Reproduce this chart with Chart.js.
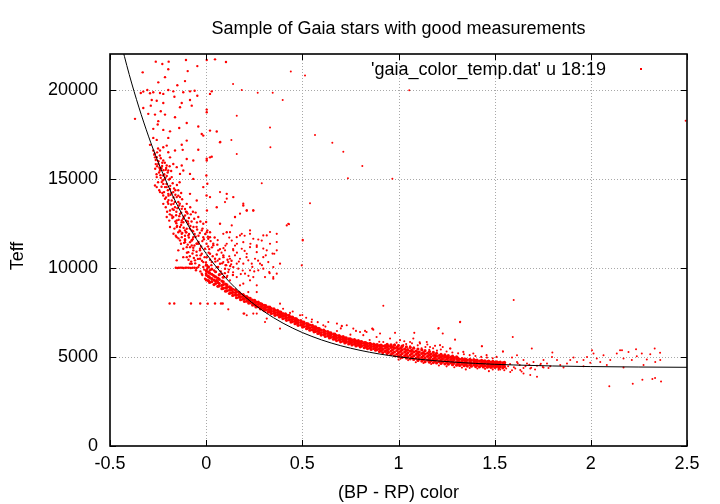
<!DOCTYPE html>
<html><head><meta charset="utf-8">
<script src="https://cdn.jsdelivr.net/npm/chart.js@4"></script>
<style>html,body{margin:0;padding:0;background:#fff}canvas{display:block}</style>
</head><body>
<canvas id="c" width="720" height="504"></canvas>
<script>
const chartTitle = "Sample of Gaia stars with good measurements";
const xLabel = "(BP - RP) color";
const yLabel = "Teff";
const seriesLabel = "'gaia_color_temp.dat' u 18:19";
const xTicks = [-0.5, 0, 0.5, 1, 1.5, 2, 2.5];
const yTicks = [0, 5000, 10000, 15000, 20000];

// fitted curve
const fitColor = [-0.45,-0.40,-0.35,-0.30,-0.25,-0.20,-0.15,-0.10,-0.05,0.00,0.05,0.10,0.15,0.20,0.25,0.30,0.35,0.40,0.45,0.50,0.60,0.70,0.80,0.90,1.00,1.10,1.20,1.30,1.40,1.50,1.60,1.80,2.00,2.25,2.50];
const fitTeff = [22909,20849,19019,17391,15945,14660,13519,12503,11602,10800,10088,9455,8892,8392,7948,7553,7202,6890,6613,6367,5953,5627,5369,5165,5004,4877,4777,4698,4635,4586,4547,4491,4457,4432,4417];

// dense main band: colour of each column and the Teff values read in it
const bandColor = [0.001,0.012,0.018,0.029,0.041,0.049,0.061,0.068,0.082,0.089,0.101,0.108,0.121,0.129,0.138,0.152,0.158,0.171,0.179,0.192,0.199,0.211,0.221,0.229,0.241,0.252,0.259,0.271,0.282,0.289,0.301,0.309,0.322,0.331,0.339,0.352,0.358,0.371,0.381,0.388,0.399,0.412,0.418,0.431,0.441,0.449,0.462,0.469,0.478,0.492,0.501,0.508,0.522,0.529,0.539,0.552,0.561,0.569,0.581,0.588,0.598,0.611,0.619,0.632,0.641,0.648,0.662,0.669,0.678,0.691,0.699,0.712,0.721,0.728,0.741,0.749,0.758,0.771,0.779,0.791,0.801,0.808,0.822,0.829,0.839,0.852,0.858,0.871,0.881,0.889,0.901,0.909,0.918,0.931,0.941,0.948,0.961,0.969,0.979,0.992,1.000,1.011,1.019,1.032,1.041,1.048,1.061,1.069,1.079,1.092,1.101,1.108,1.121,1.129,1.138,1.151,1.161,1.168,1.181,1.189,1.198,1.211,1.221,1.229,1.241,1.252,1.259,1.271,1.281,1.288,1.302,1.309,1.318,1.331,1.342,1.349,1.358,1.371,1.379,1.392,1.401,1.408,1.421,1.432,1.441,1.449,1.462,1.469,1.481,1.491,1.502,1.511,1.522,1.529,1.542,1.551];
const bandTeff = [
[9320,9590,9840,10150],[9280,9520,9760,10050],[9180,9450,9700],[9220,9390,9640,9930],[9060,9310,9540],[9120,9260,9490,9780],[8960,9180,9420],[8990,9120,9350,9610],[8830,9010,9260],[8850,9060,9210,9470],
[8690,8880,9090],[8720,8900,9040],[8560,8740,8930],[8600,8770,8880],[8450,8620,8790],[8470,8610,8760],[8320,8480,8660],[8350,8500,8620],[8210,8370,8530],[8240,8390,8500],
[8110,8260,8410],[8130,8280,8390],[8020,8160,8300],[8035,8170,8280],[7910,8050,8190],[7920,8065,8170],[7800,7940,8080],[7820,7955,8070],[7700,7830,7985],[7720,7870,7970],
[7610,7745,7890],[7630,7770,7880],[7515,7660,7800],[7540,7670,7790],[7430,7560,7710],[7450,7595,7700],[7335,7480,7620],[7360,7490,7610],[7245,7390,7530],[7270,7400,7515],
[7150,7285,7430],[7170,7310,7420],[7055,7195,7340],[7080,7215,7330],[6955,7100,7240],[6985,7110,7230],[6865,7005,7150],[6890,7030,7140],[6770,6905,7050],[6790,6930,7040],
[6675,6815,6960],[6700,6840,6950],[6585,6725,6870],[6610,6750,6860],[6495,6635,6780],[6520,6660,6770],[6405,6545,6690],[6430,6570,6680],[6315,6455,6600],[6340,6480,6590],
[6225,6365,6510],[6255,6395,6505],[6145,6285,6430],[6175,6315,6425],[6065,6205,6350],[6100,6240,6350],[5995,6135,6280],[6025,6165,6275],[5915,6055,6200],[5950,6090,6200],
[5845,5985,6130],[5885,6025,6135],[5785,5925,6070],[5825,5965,6075],[5725,5865,6010],[5770,5910,6020],[5675,5815,5960],[5715,5855,5965],[5615,5755,5900],[5660,5800,5910],
[5565,5705,5850],[5610,5750,5860],[5515,5655,5800],[5560,5700,5810],[5465,5605,5750],[5510,5650,5760],[5415,5555,5700],[5465,5605,5715],[5375,5515,5660],[5415,5565,5685],
[5300,5460,5630],[5355,5525,5660],[5245,5420,5600],[5305,5485,5630],[5185,5370,5555,5700],[5255,5445,5600],[5130,5325,5530,5680],[5200,5400,5570],[5065,5275,5490,5660],[5150,5360,5535],
[5025,5235,5450,5640],[5105,5315,5490],[4975,5185,5400,5600],[5060,5270,5445],[4935,5145,5360,5560],[5020,5230,5405],[4895,5105,5320,5530],[4980,5190,5365],[4855,5065,5280,5490],[4935,5145,5320],
[4805,5015,5230,5440],[4890,5100,5275],[4765,4975,5190,5400],[4855,5065,5240],[4735,4945,5160,5350],[4820,5030,5205],[4705,4905,5115,5300],[4790,4990,5155],[4680,4875,5080,5250],[4765,4960,5115],
[4660,4850,5040,5200],[4740,4925,5080],[4635,4820,5005,5150],[4715,4895,5045],[4610,4790,4975,5110],[4690,4870,5015],[4595,4770,4950,5080],[4670,4845,4985],[4565,4740,4920,5040],[4640,4815,4955],
[4535,4710,4890,5000],[4615,4790,4930],[4520,4690,4865],[4595,4765,4905],[4505,4670,4845],[4575,4745,4880],[4485,4650,4820],[4565,4730,4860],[4480,4640,4810],[4550,4715,4845],
[4460,4620,4790],[4530,4695,4825],[4445,4605,4765],[4520,4675,4805],[4440,4595,4750],[4505,4660,4785],[4425,4575,4730],[4495,4645,4765],[4415,4565,4715],[4480,4625,4745],
[4405,4545,4690],[4470,4610,4720],[4395,4535,4680],[4460,4600,4710],[4385,4525,4670],[4450,4590,4700]
];

// hot stars (blue end), incl. the rows at 10000 K and 8000 K
const hotStars = [
[-0.262,21570],[-0.228,21440],[-0.195,21570],[-0.105,21660],[-0.330,20970],[-0.096,21040],[-0.046,21320],[0.003,21660],[0.046,21700],[0.103,21550],[-0.249,20410],[-0.197,21140],[-0.214,20700],[-0.110,20480],[-0.150,20250],
[-0.340,19815],[-0.327,19890],[-0.306,19980],[-0.292,19795],[-0.275,19850],[-0.240,19815],[-0.223,19760],[-0.197,19980],[-0.171,19905],[-0.119,19850],[-0.084,19905],[-0.046,19660],[0.020,19760],[0.029,19905],[-0.165,19600],[-0.060,19940],
[-0.283,19420],[-0.257,19380],[-0.223,19250],[-0.127,19250],[-0.084,19420],[-0.075,19100],[-0.288,19100],[-0.236,18790],[-0.301,18640],[-0.266,18600],[-0.214,18600],[-0.101,18130],[-0.162,18450],[-0.041,17930],[0.003,18730],[0.003,18880],[-0.370,18360],[-0.327,18970],[-0.249,18230],[-0.223,17740],[-0.275,17800],[-0.188,17660],[-0.140,17850],[0.020,17700],[0.055,17650],[-0.252,18040],[-0.136,19010],
[-0.292,16900],[-0.275,17290],[-0.257,17180],[-0.240,16580],[-0.223,16770],[-0.205,16860],[-0.197,17290],[-0.266,16200],[-0.249,15830],[-0.223,16020],[-0.188,16200],[-0.127,16910],[-0.122,16620],[-0.101,17140],[-0.041,16630],[-0.015,17420],[0.020,16200],[0.029,16240],[0.072,17050],[-0.171,15830],[-0.153,15650],[-0.240,15550],[-0.223,15180],[-0.197,15460],[-0.179,15090],[-0.136,15270],[-0.119,15460],[-0.084,15270],[-0.067,14990],[-0.257,15090],[-0.231,14810],[-0.127,15740],[-0.067,16020],[0.003,16020],[-0.023,17510],[-0.162,16580],[-0.197,16490],[-0.275,16580],[-0.101,16110],
[-0.262,16050],[-0.255,15700],[-0.245,15350],[-0.232,15600],[-0.218,15250],[-0.241,16300],[-0.228,15900],[-0.210,15500],[-0.250,16700],[-0.268,16400],[-0.236,15050],[-0.205,15150],[-0.220,14950],
[-0.223,14710],[-0.205,14530],[-0.188,14430],[-0.197,14150],[-0.171,14250],[-0.153,13970],[-0.214,13870],[-0.179,13780],[-0.145,13690],[-0.162,13400],[-0.127,13310],[-0.188,13220],[-0.136,13030],[-0.110,12940],[-0.171,12850],[-0.153,12660],[-0.119,12560],[-0.093,12470],[-0.136,12290],[-0.101,12190],[-0.075,12100],[-0.127,11910],[-0.093,11820],[-0.067,11720],[-0.110,11540],[-0.084,11440],[-0.049,11350],[-0.101,11160],[-0.067,11130],[-0.032,11070],[-0.153,11720],[-0.188,12290],[-0.205,12850],[-0.197,13590],[-0.101,13590],[-0.084,14150],[-0.049,13780],[-0.041,12850],[-0.015,12470],[0.003,12000],[0.020,11720],[0.037,11350],[0.072,12470],[0.107,12000],[0.055,13400],[0.020,13970],[-0.015,14530],[0.107,14150],[0.141,13970],[0.150,12850],[0.193,13500],[0.211,13220],[0.245,13220],[-0.257,14530],[-0.240,14250],[-0.223,13590],
[-0.140,13500],[-0.155,13150],[-0.120,12750],[-0.130,12400],[-0.105,12000],[-0.090,11700],[-0.075,11250],[-0.115,11400],[-0.060,11900],[-0.050,12300],[-0.170,13950],[-0.185,14100],[-0.160,14350],[-0.145,14050],[-0.200,13700],[-0.175,13300],[-0.140,12900],[-0.095,12600],[-0.085,12200],[-0.070,11600],[-0.105,13150],[-0.125,13850],[-0.080,13000],[-0.030,12600],[-0.020,11500],[-0.040,11800],[0.010,11200],[-0.110,11800],[-0.135,12050],[-0.155,12500],
[-0.266,14620],[-0.223,14060],[-0.214,14530],[-0.240,15460],[-0.257,16210],[-0.205,15740],[-0.188,15000],[-0.170,13590],[-0.179,12940],[-0.153,12290],[-0.170,11910],[-0.136,11540],[-0.145,10980],[-0.153,10420],[-0.119,10600],[-0.084,10230],[-0.127,12660],[-0.101,13130],[-0.136,13970],[-0.110,12100],[-0.066,12290],[-0.049,11360],[-0.023,10790],
[0.003,16120],[0.001,15180],[0.006,14720],[0.002,14060],[0.004,13220],[0.000,12570],[0.006,12100],
[-0.145,12000],[-0.127,11720],[-0.110,11440],[-0.084,11160],[-0.067,10980],[-0.049,10700],[-0.032,10510],[-0.015,10320],[0.003,10140],[0.020,9860],[0.037,9580],[0.055,9300],[-0.093,10880],[-0.058,10420],[-0.041,10040],[-0.023,9670],[-0.006,9390],[-0.075,11530],[-0.041,11350],[-0.006,11070],[0.020,10790],[0.046,10510],[0.072,10230],[0.098,9950],[0.011,11630],[0.037,11260],[0.063,10980],[0.089,10700],[0.115,10320],[0.141,10040],[-0.119,11070],[-0.101,10600],[-0.075,10230],[-0.053,9860],[-0.032,10980],[0.003,10600],[0.029,10320],[0.055,10040],[0.081,9670],[0.107,9480],[-0.015,11720],[0.020,12000],[-0.023,12100],
[-0.270,16350],[-0.262,15820],[-0.255,16480],[-0.248,15980],[-0.243,15620],[-0.236,16150],[-0.229,15720],[-0.222,15480],[-0.215,15900],[-0.208,15600],[-0.200,15350],[-0.190,15700],[-0.182,15430],[-0.265,15560],[-0.258,15250],
[-0.250,14800],[-0.244,14350],[-0.238,15200],[-0.232,14550],[-0.226,14900],[-0.219,14250],[-0.212,15050],[-0.206,14700],[-0.199,14350],[-0.193,14950],[-0.187,14600],[-0.180,14200],[-0.174,14750],[-0.167,14450],[-0.160,14100],[-0.152,14650],[-0.145,14350],[-0.138,14800],[-0.130,14200],[-0.228,14200],[-0.209,13950],[-0.196,14050],
[-0.210,13400],[-0.203,13150],[-0.196,13800],[-0.189,13000],[-0.182,13550],[-0.176,12800],[-0.169,13250],[-0.163,13700],[-0.156,12950],[-0.149,13350],[-0.143,12700],[-0.137,13600],[-0.130,13100],[-0.123,13450],[-0.117,12850],[-0.110,13300],[-0.104,12650],[-0.097,13050],[-0.090,12800],[-0.083,13400],[-0.076,12600],[-0.069,13150],[-0.062,12750],[-0.055,13100],[-0.048,12550],[-0.192,12650],[-0.160,12600],[-0.128,12550],
[-0.165,12200],[-0.158,11800],[-0.151,12350],[-0.144,11650],[-0.138,12100],[-0.131,11350],[-0.124,11950],[-0.117,12250],[-0.110,11600],[-0.103,12000],[-0.096,11300],[-0.089,11900],[-0.082,12350],[-0.075,11550],[-0.068,12050],[-0.061,11250],[-0.054,11750],[-0.047,12150],[-0.040,11450],[-0.033,11950],[-0.026,11200],[-0.019,12200],[-0.012,11600],[-0.005,11900],[0.002,11350],[0.009,11750],[0.016,11050],[0.023,11500],[0.030,11150],[0.044,11700],[0.058,11300],[0.072,11050],
[-0.100,10850],[-0.092,10450],[-0.085,10650],[-0.078,10350],[-0.071,10800],[-0.064,10550],[-0.057,10250],[-0.050,10900],[-0.043,10500],[-0.036,10150],[-0.029,10700],[-0.022,10400],[-0.015,10050],[-0.008,10600],[-0.001,10300],[0.006,9950],[0.013,10850],[0.020,10450],[0.027,10150],[0.034,10650],[0.041,9850],[0.048,10350],[0.055,10750],[0.062,10050],[0.069,10500],[0.076,9800],[0.083,10250],[0.090,10600],[0.097,9700],[0.104,10150],[0.111,10450],[0.118,9900],[0.125,10100],[0.132,10400],[0.139,9600],[-0.030,9800],[-0.020,9600],[-0.010,9900],[0.000,9700],[0.010,9500],
[-0.158,10000],[-0.150,9990],[-0.142,10000],[-0.133,10010],[-0.125,10000],[-0.117,9990],[-0.108,10000],[-0.100,10010],[-0.090,10000],[-0.080,9990],[-0.070,10000],[-0.060,10000],[-0.050,9990],
[-0.190,8000],[-0.166,8000],[-0.079,8000],[-0.031,8000],[0.008,7990],[0.046,8000],[0.077,8000],[0.086,8000]
];

// the hump of stars right of the curve near colour 0 - 0.4
const humpStars = [
[0.089,11910],[0.124,12000],[0.159,11720],[0.193,11440],[0.228,11160],[0.263,10880],[0.297,10600],[0.323,10320],[0.349,10040],[0.367,10980],[0.332,11350],[0.289,11530],[0.245,11630],[0.211,10790],[0.176,10510],[0.141,10980],[0.167,9950],[0.202,9670],[0.237,10230],[0.271,9860],[0.306,9480],[0.349,9390],[0.115,9760],[0.124,9300],[0.159,9480],[0.193,9110],[0.228,9300],[0.263,9020],[0.133,11530],[0.185,11910],[0.107,11350],[0.150,10700],[0.185,11070],[0.219,10420],[0.254,10510],[0.280,10230],[0.315,10980],[0.098,10980],[0.124,10510],[0.089,10320],[0.193,10230],[0.228,9860],[0.159,10230],[0.245,9480],[0.297,9950],[0.328,9760],[0.367,11910],[0.384,10230],[0.367,9670],[0.263,11260],[0.315,11820],[0.228,11910],[0.502,11540],[0.497,10140],[0.354,10790],
[0.367,11450],[0.332,12010],[0.271,11590],[0.245,13220],[0.211,13220],[0.193,13600],[0.150,12850],[0.107,13880],[0.072,14250],[0.098,13690],[0.176,13040],[0.133,12380],[0.176,11820],[0.228,12100],[0.263,11170],[0.297,11080],[0.345,10800],[0.297,11820],[0.427,12470],[0.419,12380],
[0.124,8830],[0.176,9020],[0.219,8640],[0.263,8640],[0.115,7670],[0.198,7430],[0.245,7430],[0.315,7150],
[0.06,10400],[0.08,10850],[0.10,10150],[0.12,10650],[0.14,9750],[0.16,10850],[0.18,9650],[0.20,10950],[0.22,9550],[0.24,10050],[0.07,9650],[0.09,11100],[0.11,9550],[0.13,10200],[0.15,11250],[0.17,10350],[0.19,9850],[0.21,10600],[0.23,11350],[0.25,9800],[0.27,10400],[0.29,10150],[0.31,10700],[0.33,9700],[0.12,11700],[0.16,11350],[0.20,11800],[0.06,11550],[0.10,11250],[0.14,11050]
];

// stars scattered around the main band
const sideStars = [
[0.349,9480],[0.384,7990],[0.635,6960],[0.731,6780],[0.800,6400],[0.869,6530],[0.609,6780],[0.548,6960],[0.488,7340],[0.436,7470],[0.680,6870],[0.765,6590],[0.834,6400],[0.886,6120],[0.263,7430],[0.306,6960],[0.384,6590],[0.211,7340],[0.194,7430],
[0.705,6720],[0.779,6460],[0.826,6460],[0.864,6590],[0.817,6220],[0.904,6310],[0.982,6350],[1.082,6350],[1.008,5940],[1.060,5840],[1.112,5750],[1.147,5840],[1.207,6590],[1.230,6310],[1.294,5970],[1.433,5600],[1.320,6950],[1.543,5300],[1.164,5560],[1.216,5660],[1.268,5470],[1.337,5280],[1.389,5190],[1.458,5100],[1.510,5000],[1.077,6030],[1.025,5660],[0.956,6030],[0.921,5840],
[0.96,5620],[0.98,5700],[1.00,5650],[1.02,5560],[1.04,5720],[1.06,5600],[1.08,5520],[1.10,5650],[1.12,5480],[1.14,5560],[1.16,5400],[1.18,5480],[1.20,5350],[1.22,5420],[1.25,5300],[1.28,5250],[1.31,5200],[1.34,5150],[1.37,5100],[1.40,5050],[1.43,5000],[1.46,4960],[1.49,4920],[0.99,5800],[1.03,5880],[1.07,5760],[1.11,5820],[1.15,5700],[1.19,5620],[1.23,5560],[1.27,5470],
[1.01,4900],[1.05,4820],[1.09,4700],[1.13,4660],[1.17,4600],[1.21,4520],[1.25,4470],[1.29,4420],[1.33,4400],[1.37,4380],[1.41,4350],[1.45,4330],[1.49,4300],[1.52,4280],[1.00,4850],[1.35,4300],[1.47,4200],[1.55,4250],
[0.45,7550],[0.52,7200],[0.58,6950],[0.62,6700],[0.68,6450],[0.75,6250],[0.85,5950],[0.90,5850],[0.55,7100],[0.70,6600],[0.40,7700],[0.50,7350]
];

// cool (red) end
const coolTail = [
[1.581,4160],[1.650,4070],[1.685,3980],[1.720,3880],[1.633,4260],[1.529,4290],[1.477,4410],[1.425,4480],[1.373,4520],[1.607,4350],[1.685,4350],[1.754,4410],[1.789,4480],[1.737,4540],[1.668,4630],[1.616,4720],[1.546,4670],[1.772,4630],[1.841,4540],[1.858,4410],[1.893,4820],[1.928,4720],[1.962,4820],[1.980,5000],[2.014,5190],[2.031,4910],[2.066,5100],[2.101,4820],[2.135,5190],[2.170,4910],[2.196,5280],[2.213,4820],[2.239,5040],[2.265,5190],[2.291,4850],[2.309,5150],[2.335,4720],[2.361,4820],[2.152,5380],[2.049,4720],[1.997,4670],[1.910,4970],[1.824,4820],[1.876,4630],[1.798,5000],[1.754,4820],[1.702,4720],[1.650,4820],[1.590,4970],[1.616,5100],[1.962,4480],[2.083,4540],[2.170,4410],[2.274,4540],
[1.57,4480],[1.60,4420],[1.63,4550],[1.66,4470],[1.69,4390],[1.72,4500],[1.75,4440],[1.78,4380],[1.58,4600],[1.62,4650],[1.65,4380],[1.68,4560],[1.71,4300],[1.74,4620],[1.56,4350],[1.59,4250],[1.64,4180]
];

// isolated stars
const outliers = [
[0.140,20310],[0.185,19980],[0.268,19830],[0.346,19830],[0.398,19420],[0.440,21020],[0.514,20800],[0.159,18540],[0.332,17880],[0.566,17450],[0.656,17020],[0.713,16510],[0.334,16760],[0.159,16390],[0.131,17170],[0.074,17080],[0.737,15020],[0.812,15710],[0.289,14740],[0.540,13620],[0.431,12440],[0.502,11580],[0.968,15000],[1.056,19960],[2.493,18250],
[0.921,7870],[1.599,8190],[1.321,6980],[1.209,6620],[0.705,6750],[0.864,6580],[1.594,6120],[1.693,5470],[1.800,5250],[2.006,5380],[2.162,5380],[2.235,5430],[2.332,5470],[2.360,5230],[2.096,3360],[2.218,3500],[2.268,3720],[2.320,3760],[2.334,3820],[2.365,3620],[1.434,5600],[1.543,5300]
];

const RED = 'rgb(255,0,0)';
const FONT_FAMILY = '"Liberation Sans", Arial, Helvetica, sans-serif';
const FONT = '18px ' + FONT_FAMILY;
const pairs = a => a.map(p => ({x: p[0], y: p[1]}));
const bandPts = [];
bandColor.forEach((c, i) => bandTeff[i].forEach(t => bandPts.push({x: c, y: t})));
const fitPts = fitColor.map((c, i) => ({x: c, y: fitTeff[i]}));

const dotSet = (label, data, r) => ({
  label, data, showLine: false, pointRadius: r, pointHoverRadius: r,
  pointBackgroundColor: RED, pointBorderWidth: 0, backgroundColor: RED, borderColor: RED
});

const frame = {
  id: 'frame',
  beforeDatasetsDraw(chart) {
    const {ctx, chartArea: a, scales: {x, y}} = chart;
    ctx.save();
    ctx.strokeStyle = '#a8a8a8'; ctx.lineWidth = 1; ctx.setLineDash([1, 2]);
    xTicks.forEach(v => {
      if (v <= x.min || v >= x.max) return;
      const px = Math.round(x.getPixelForValue(v)) + 0.5;
      ctx.beginPath(); ctx.moveTo(px, a.top); ctx.lineTo(px, a.bottom); ctx.stroke();
    });
    yTicks.forEach(v => {
      if (v <= y.min || v >= y.max) return;
      const py = Math.round(y.getPixelForValue(v)) + 0.5;
      ctx.beginPath(); ctx.moveTo(a.left, py); ctx.lineTo(a.right, py); ctx.stroke();
    });
    ctx.restore();
  },
  afterDatasetsDraw(chart) {
    const {ctx, chartArea: a, scales: {x, y}} = chart;
    ctx.save();
    ctx.strokeStyle = '#000'; ctx.lineWidth = 1; ctx.setLineDash([]);
    const T = 6;
    xTicks.forEach(v => {
      const px = Math.round(x.getPixelForValue(v)) + 0.5;
      ctx.beginPath();
      ctx.moveTo(px, a.bottom); ctx.lineTo(px, a.bottom - T);
      ctx.moveTo(px, a.top); ctx.lineTo(px, a.top + T);
      ctx.stroke();
    });
    yTicks.forEach(v => {
      const py = Math.round(y.getPixelForValue(v)) + 0.5;
      ctx.beginPath();
      ctx.moveTo(a.left, py); ctx.lineTo(a.left + T, py);
      ctx.moveTo(a.right, py); ctx.lineTo(a.right - T, py);
      ctx.stroke();
    });
    ctx.lineWidth = 1.6;
    ctx.strokeRect(a.left, a.top, a.right - a.left, a.bottom - a.top);
    // key
    ctx.fillStyle = '#000';
    ctx.font = FONT; ctx.textAlign = 'right'; ctx.textBaseline = 'middle';
    ctx.fillText(seriesLabel, 606, 70);
    ctx.fillStyle = RED;
    ctx.fillRect(640, 68, 2, 2);
    ctx.restore();
  },
  afterDraw(chart) {
    const {ctx, chartArea: a} = chart;
    const cx = (a.left + a.right) / 2;
    ctx.save();
    ctx.fillStyle = '#000'; ctx.font = FONT;
    ctx.textAlign = 'center'; ctx.textBaseline = 'middle';
    ctx.fillText(chartTitle, cx, 29);
    ctx.fillText(xLabel, cx, 493);
    ctx.translate(18, (a.top + a.bottom) / 2 + 6);
    ctx.rotate(-Math.PI / 2);
    ctx.fillText(yLabel, 0, 0);
    ctx.restore();
  }
};

Chart.defaults.font.family = FONT_FAMILY;
new Chart(document.getElementById('c'), {
  type: 'scatter',
  data: {
    datasets: [
      {label: 'fit', data: fitPts, showLine: true, borderColor: '#000', borderWidth: 1,
       pointRadius: 0, cubicInterpolationMode: 'monotone', fill: false},
      dotSet(seriesLabel, bandPts, 1.6),
      dotSet('hot', pairs(hotStars), 1.2),
      dotSet('hump', pairs(humpStars), 1.1),
      dotSet('side', pairs(sideStars), 1.05),
      dotSet('cool', pairs(coolTail), 1.0),
      dotSet('out', pairs(outliers), 1.0)
    ]
  },
  options: {
    responsive: false, animation: false, devicePixelRatio: 1, events: [],
    layout: {padding: {top: 54, right: 33, left: 0, bottom: 0}},
    plugins: {legend: {display: false}, tooltip: {enabled: false}, title: {display: false}},
    scales: {
      x: {
        type: 'linear', min: -0.5, max: 2.5,
        afterBuildTicks: s => { s.ticks = xTicks.map(v => ({value: v})); },
        afterFit: s => { s.height = 58; },
        grid: {display: false, drawTicks: false}, border: {display: false},
        ticks: {color: '#000', font: {size: 18}, padding: 7, maxRotation: 0, autoSkip: false, callback: v => String(v)}
      },
      y: {
        type: 'linear', min: 0, max: 22000,
        afterBuildTicks: s => { s.ticks = yTicks.map(v => ({value: v})); },
        afterFit: s => { s.width = 110; },
        grid: {display: false, drawTicks: false}, border: {display: false},
        ticks: {color: '#000', font: {size: 18}, padding: 12, autoSkip: false, callback: v => String(v)}
      }
    }
  },
  plugins: [frame]
});
</script>
</body></html>
